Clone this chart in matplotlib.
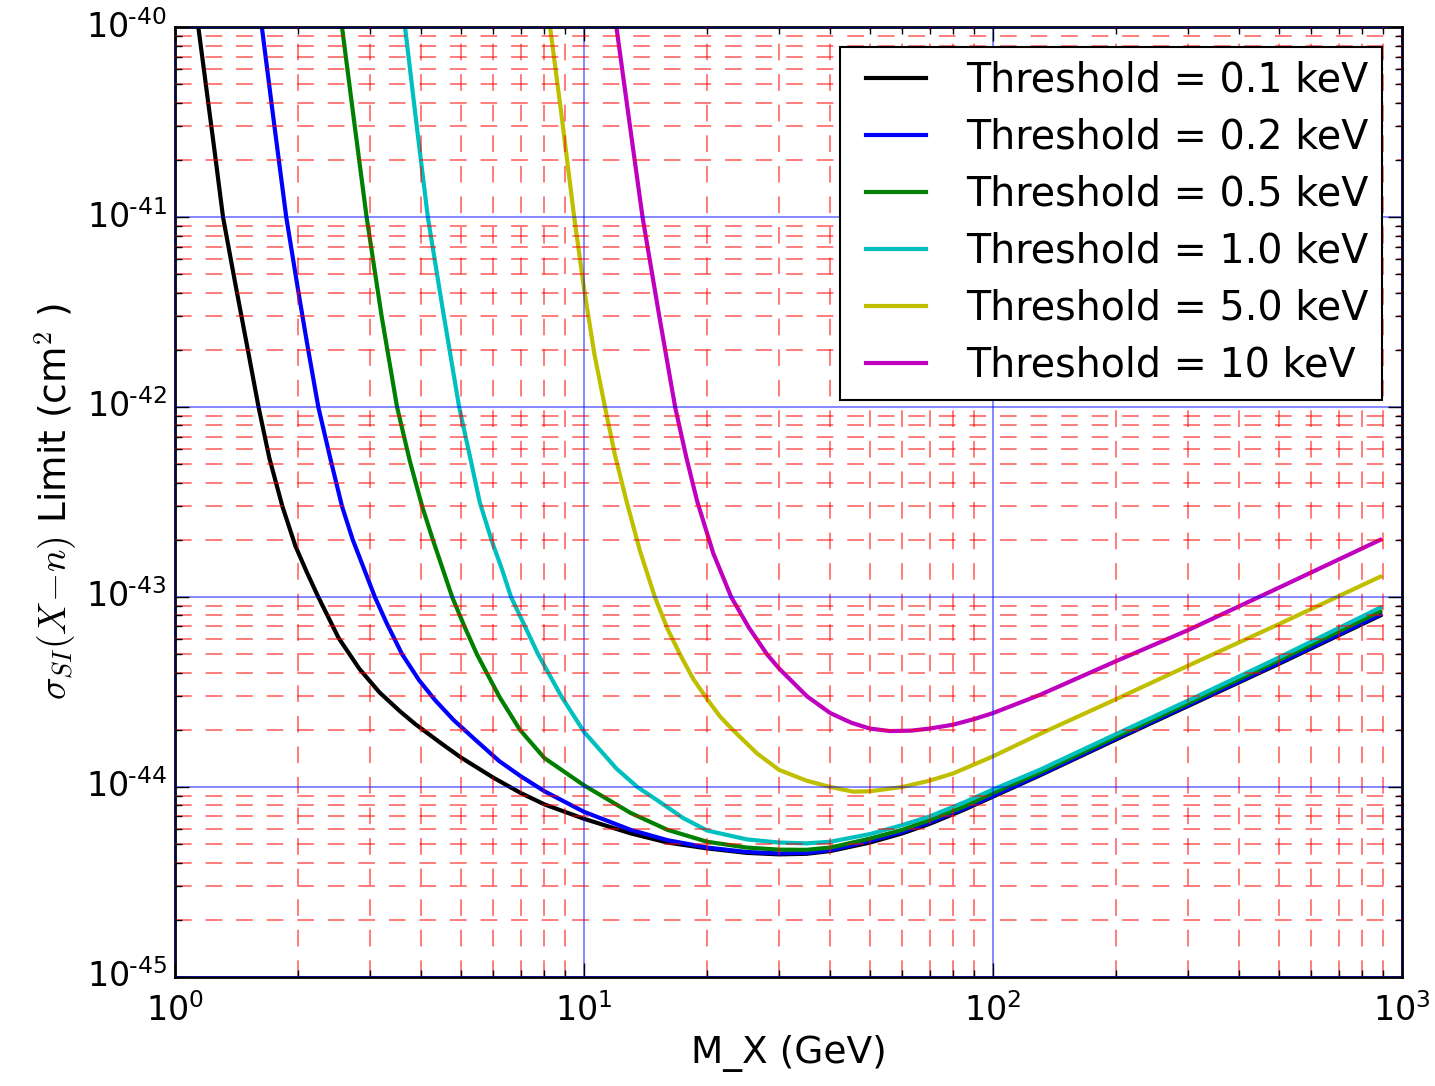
import numpy as np
import matplotlib
matplotlib.use("Agg")
from matplotlib import pyplot as plt
from matplotlib.ticker import FuncFormatter

plt.style.use("classic")
plt.rcParams["axes.unicode_minus"] = False

# Umbrales (keV) y limites de seccion eficaz
labels = ["Threshold = 0.1 keV", "Threshold = 0.2 keV", "Threshold = 0.5 keV",
          "Threshold = 1.0 keV", "Threshold = 5.0 keV", "Threshold = 10 keV"]
colors = ["k", "b", "g", "c", "y", "m"]

m_01 = [1.14, 1.20, 1.25, 1.31, 1.40, 1.50, 1.60, 1.70, 1.83, 1.97, 2.10, 2.24, 2.51, 2.82, 3.16, 3.55, 3.86,
        4.47, 5.0, 6.0, 7.0, 8.0, 10, 13, 16, 20, 25, 30, 35, 40, 50, 60, 70, 85, 100, 130, 200, 300, 500, 885]
s_01 = [1e-40, 4.3e-41, 2.2e-41, 1e-41, 4.6e-42, 2.1e-42, 1e-42, 5.4e-43, 3.0e-43, 1.85e-43, 1.35e-43, 1e-43,
        6.1e-44, 4.2e-44, 3.15e-44, 2.5e-44, 2.15e-44, 1.7e-44, 1.43e-44, 1.12e-44, 9.3e-45, 8.1e-45, 6.8e-45,
        5.7e-45, 5.1e-45, 4.75e-45, 4.5e-45, 4.42e-45, 4.45e-45, 4.6e-45, 5.1e-45, 5.7e-45, 6.4e-45, 7.6e-45,
        8.9e-45, 1.15e-44, 1.78e-44, 2.67e-44, 4.45e-44, 8.0e-44]

m_02 = [1.63, 1.75, 1.87, 2.0, 2.1, 2.24, 2.4, 2.56, 2.72, 2.9, 3.08, 3.3, 3.59, 3.95, 4.32, 4.8, 5.41, 6.2,
        7.0, 8.0, 10, 13, 16, 20, 25, 30, 35, 40, 50, 60, 70, 85, 100, 130, 200, 300, 500, 885]
s_02 = [1e-40, 3.0e-41, 1e-41, 4.1e-42, 2.2e-42, 1e-42, 5.3e-43, 3.0e-43, 2.0e-43, 1.4e-43, 1.0e-43, 7.2e-44,
        5.0e-44, 3.65e-44, 2.87e-44, 2.25e-44, 1.78e-44, 1.37e-44, 1.14e-44, 9.5e-45, 7.4e-45, 5.95e-45, 5.25e-45,
        4.8e-45, 4.55e-45, 4.47e-45, 4.5e-45, 4.65e-45, 5.2e-45, 5.8e-45, 6.5e-45, 7.7e-45, 9.0e-45, 1.16e-44,
        1.8e-44, 2.7e-44, 4.5e-44, 8.1e-44]

m_05 = [2.56, 2.74, 2.94, 3.2, 3.49, 3.75, 4.02, 4.27, 4.5, 4.76, 5.1, 5.47, 5.85, 6.23, 6.97, 8.0, 10, 13,
        16, 20, 25, 30, 35, 40, 50, 60, 70, 85, 100, 130, 200, 300, 500, 885]
s_05 = [1e-40, 3.2e-41, 1e-41, 3.0e-42, 1e-42, 5.2e-43, 3.0e-43, 2.0e-43, 1.43e-43, 1e-43, 7.0e-44, 5.0e-44,
        3.8e-44, 2.95e-44, 2.0e-44, 1.42e-44, 1.02e-44, 7.3e-45, 5.95e-45, 5.15e-45, 4.8e-45, 4.68e-45, 4.67e-45,
        4.8e-45, 5.35e-45, 5.95e-45, 6.7e-45, 7.9e-45, 9.3e-45, 1.19e-44, 1.84e-44, 2.76e-44, 4.65e-44, 8.4e-44]

m_10 = [3.65, 3.9, 4.15, 4.5, 4.95, 5.25, 5.56, 5.96, 6.3, 6.63, 7.15, 7.72, 8.2, 8.8, 10, 12, 13.5, 15,
        17.5, 20, 25, 30, 35, 40, 50, 60, 70, 85, 100, 130, 200, 300, 500, 885]
s_10 = [1e-40, 3.0e-41, 1e-41, 3.4e-42, 1e-42, 5.6e-43, 3.15e-43, 1.95e-43, 1.4e-43, 1e-43, 7.1e-44, 5.0e-44,
        3.95e-44, 3.0e-44, 1.95e-44, 1.25e-44, 1.0e-44, 8.6e-45, 6.85e-45, 5.9e-45, 5.3e-45, 5.1e-45, 5.05e-45,
        5.15e-45, 5.65e-45, 6.3e-45, 7.0e-45, 8.3e-45, 9.7e-45, 1.23e-44, 1.9e-44, 2.85e-44, 4.8e-44, 8.8e-44]

m_50 = [8.26, 8.8, 9.46, 10, 10.6, 11.25, 11.9, 12.7, 13.7, 14.9, 16, 17.2, 18.5, 20, 21.5, 23.1, 26.5, 30,
        35, 40, 45.5, 50, 60, 70, 80, 100, 130, 200, 300, 500, 885]
s_50 = [1e-40, 3.5e-41, 1e-41, 4.2e-42, 1.9e-42, 1e-42, 5.6e-43, 3.2e-43, 1.75e-43, 1e-43, 6.8e-44, 4.95e-44,
        3.7e-44, 2.9e-44, 2.35e-44, 2.0e-44, 1.5e-44, 1.23e-44, 1.08e-44, 1.0e-44, 9.45e-45, 9.5e-45, 1.0e-44,
        1.08e-44, 1.18e-44, 1.45e-44, 1.9e-44, 2.9e-44, 4.35e-44, 7.2e-44, 1.28e-43]

m_100 = [12.0, 12.9, 13.9, 15.2, 16.7, 17.8, 18.9, 20.7, 22.9, 25.3, 28, 30, 35.1, 40, 45, 50, 56, 63, 70,
         80, 90, 100, 130, 200, 300, 500, 885]
s_100 = [1e-40, 3.2e-41, 1e-41, 3.2e-42, 1e-42, 5.4e-43, 3.2e-43, 1.7e-43, 1e-43, 6.9e-44, 5.0e-44, 4.2e-44,
         3.0e-44, 2.45e-44, 2.18e-44, 2.03e-44, 1.97e-44, 1.98e-44, 2.03e-44, 2.13e-44, 2.28e-44, 2.45e-44,
         3.05e-44, 4.6e-44, 6.7e-44, 1.12e-43, 2.0e-43]

masas = [m_01, m_02, m_05, m_10, m_50, m_100]
limites = [s_01, s_02, s_05, s_10, s_50, s_100]


def potencia(v, pos):
    e = int(round(np.log10(v)))
    if e < 0:
        return r"$\mathdefault{10^{\text{-}%d}}$" % (-e)
    return r"$\mathdefault{10^{%d}}$" % e


fig = plt.figure(figsize=(14.35, 10.86), dpi=100, facecolor="w")
ax = fig.add_axes([0.122, 0.1004, 0.855, 0.8746])

for m, s, c, l in zip(masas, limites, colors, labels):
    ax.loglog(m, s, color=c, lw=3, label=l)

ax.set_xlim(1, 1e3)
ax.set_ylim(1e-45, 1e-40)
ax.xaxis.set_major_formatter(FuncFormatter(potencia))
ax.yaxis.set_major_formatter(FuncFormatter(potencia))
ax.grid(True, which="major", color="b", linestyle="-", lw=1.2, alpha=0.55)
ax.grid(True, which="minor", color="r", linestyle="--", dashes=(12, 10), lw=1.2, alpha=0.6)
ax.tick_params(which="both", labelsize=24)
ax.tick_params(axis="x", which="both", pad=12)
ax.tick_params(axis="y", which="both", pad=6)
ax.tick_params(which="major", length=10, width=1)
ax.tick_params(which="minor", length=5, width=1)
for sp in ax.spines.values():
    sp.set_linewidth(2)

ax.set_xlabel("M_X (GeV)", fontsize=27)
ax.set_ylabel(r"$\sigma_{SI}(X\!-\!n)$ Limit (cm$^2$ )", fontsize=27)

leg = ax.legend(loc="upper right", fontsize=28.5, handlelength=2.1, borderaxespad=0.5,
                labelspacing=0.43, handletextpad=0.72, borderpad=0.35)
leg.get_frame().set_linewidth(1.5)

fig.savefig("out.png", dpi=100, facecolor="w")
